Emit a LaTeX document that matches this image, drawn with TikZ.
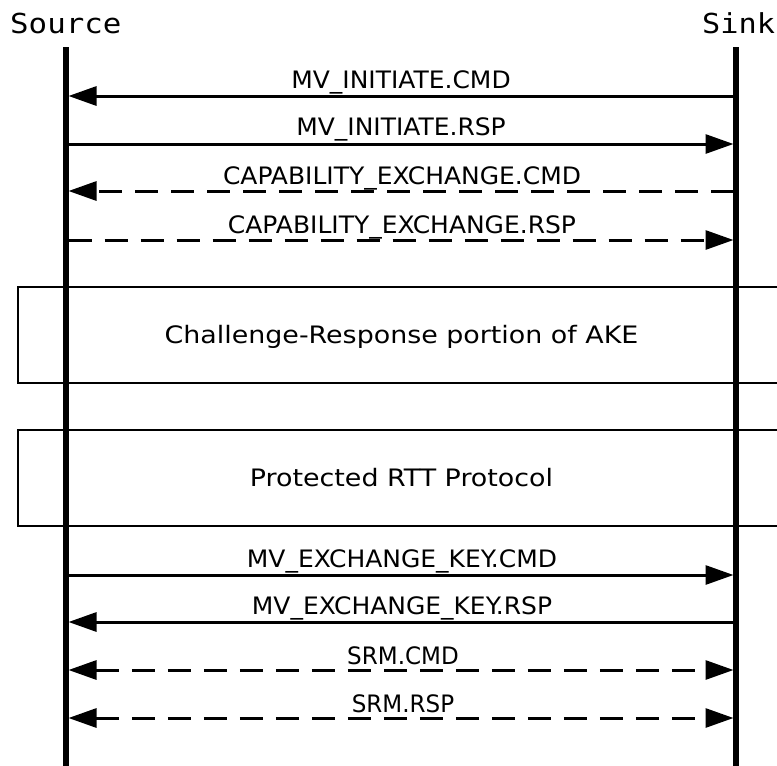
\documentclass[tikz,border=0pt]{standalone}
\usepackage{fontspec}
\usepackage{graphicx}
\setmainfont{DejaVu Sans}
\newfontfamily\actorfont{DejaVu Sans Mono}
\newcommand\hstretch[2]{\scalebox{#1}[1]{#2}}
\usetikzlibrary{arrows.meta}
\tikzset{
  lifeline/.style={line width=5.8pt},
  msg/.style={line width=3pt},
  tip/.style={-{Triangle[length=28pt,width=19pt]}},
  bothtip/.style={{Triangle[length=28pt,width=19pt]}-{Triangle[length=28pt,width=19pt]}},
  dsh/.style={dash pattern=on 23pt off 13pt},
  lbl/.style={anchor=base, inner sep=0pt, font=\fontsize{24}{28}\selectfont},
  actor/.style={anchor=base west, inner sep=0pt, font=\actorfont\fontsize{27.5}{32}\selectfont},
  phase/.style={draw, line width=2.8pt, outer sep=0pt, inner sep=0pt, anchor=north west,
     minimum width=790pt, minimum height=96pt},
  ptext/.style={anchor=base, inner sep=0pt, font=\fontsize{24}{28}\selectfont}
}
\begin{document}
\begin{tikzpicture}[x=1pt,y=-1pt]
\useasboundingbox (0,0) rectangle (777,766);
% actors
\node[actor] (src) at (10,33) {\hstretch{1.12}{Source}};
\node[actor] (snk) at (702,33) {\hstretch{1.1}{Sink}};
% phase boxes
\node[phase] (box1) at (18,287) {};
\node[ptext] (t1) at (401.5,343) {\hstretch{1.12}{Challenge-Response portion of AKE}};
\node[phase] (box2) at (18,430) {};
\node[ptext] (t2) at (401.5,486) {\hstretch{1.12}{Protected RTT Protocol}};
% lifelines
\coordinate (Stop) at (66,47);
\coordinate (Sbot) at (66,766);
\coordinate (Ktop) at (736,47);
\coordinate (Kbot) at (736,766);
\draw[lifeline] (Stop) -- (Sbot);
\draw[lifeline] (Ktop) -- (Kbot);
% message end points
\foreach \n/\y in {1/96,2/144,3/191,4/240,5/575,6/622,7/670,8/718}{
  \coordinate (a\n) at (68.5,\y);
  \coordinate (b\n) at (733.5,\y);
}
% messages
\draw[msg,tip] (b1) -- (a1);
\node[lbl] (m1) at (401,88) {\hstretch{1.04}{MV\_INITIATE.CMD}};
\draw[msg,tip] (a2) -- (b2);
\node[lbl] (m2) at (401,135) {\hstretch{1.04}{MV\_INITIATE.RSP}};
\draw[msg,dsh,tip] (b3) -- (a3);
\node[lbl] (m3) at (402,184) {\hstretch{1.04}{CAPABILITY\_EXCHANGE.CMD}};
\draw[msg,dsh,tip] (a4) -- (b4);
\node[lbl] (m4) at (402,233) {\hstretch{1.04}{CAPABILITY\_EXCHANGE.RSP}};
\draw[msg,tip] (a5) -- (b5);
\node[lbl] (m5) at (402,567) {\hstretch{1.04}{MV\_EXCHANGE\_KEY.CMD}};
\draw[msg,tip] (b6) -- (a6);
\node[lbl] (m6) at (402,614) {\hstretch{1.04}{MV\_EXCHANGE\_KEY.RSP}};
\draw[msg,dsh,bothtip] (a7) -- (b7);
\node[lbl] (m7) at (403,664) {\hstretch{0.96}{SRM.CMD}};
\draw[msg,dsh,bothtip] (a8) -- (b8);
\node[lbl] (m8) at (403,712) {\hstretch{0.96}{SRM.RSP}};
\end{tikzpicture}
\end{document}
